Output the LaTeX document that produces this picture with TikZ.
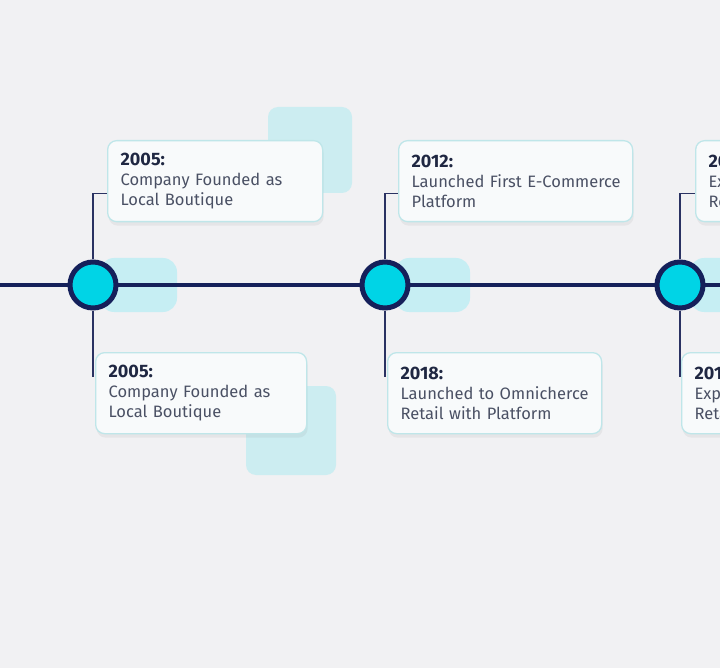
\documentclass[tikz,border=0pt]{standalone}
\usepackage{fontspec}
\setmainfont{Fira Sans}
\usetikzlibrary{shadows}
\definecolor{bgc}{HTML}{F1F1F3}
\definecolor{navy}{HTML}{15205A}
\definecolor{conn}{HTML}{2A3262}
\definecolor{cyanf}{HTML}{00D4E6}
\definecolor{hl}{HTML}{C6EEF3}
\definecolor{deco}{HTML}{CCEDF1}
\definecolor{boxf}{HTML}{F8FAFB}
\definecolor{boxd}{HTML}{BFE6E9}
\definecolor{yearc}{HTML}{1F2742}
\definecolor{descc}{HTML}{4A5064}
\tikzset{
  x=1pt, y=-1pt,
  evbox/.style={draw=boxd, line width=1.3pt, fill=boxf, rounded corners=9pt,
    anchor=north west, align=left, inner xsep=13pt, inner ysep=0pt,
    minimum height=81pt, font=\fontsize{16.5}{20}\selectfont, text=descc,
    drop shadow={opacity=0.10, shadow xshift=1pt, shadow yshift=-4pt}},
  decobox/.style={fill=deco, rounded corners=10pt, draw=none},
  hlbox/.style={fill=hl, rounded corners=14pt, draw=none},
  milestone/.style={circle, fill=cyanf, draw=navy, line width=5pt, minimum size=46pt, inner sep=0pt},
  tline/.style={draw=navy, line width=3.5pt},
  connector/.style={draw=conn, line width=1.6pt},
}
\newcommand{\yr}[1]{{\color{yearc}\fontsize{18}{20}\selectfont\bfseries #1}}
\newcommand{\oneline}[1]{\mbox{#1}}
\begin{document}
\begin{tikzpicture}
\fill[bgc] (0,0) rectangle (720,668);
\useasboundingbox (0,0) rectangle (720,668);
\clip (0,0) rectangle (720,668);
% decorative squares
\fill[decobox] (268,107) rectangle (352,193);
\fill[decobox] (246,386) rectangle (336,475);
% highlights behind milestones
\fill[hlbox] (100,258) rectangle (177,312);
\fill[hlbox] (395,258) rectangle (470,312);
\fill[hlbox] (690,258) rectangle (760,312);
% timeline
\coordinate (L) at (0,285);
\coordinate (R) at (720,285);
\draw[tline] (L) -- (R);
% milestones
\node[milestone] (c1) at (93,285) {};
\node[milestone] (c2) at (385,285) {};
\node[milestone] (c3) at (680,285) {};
% boxes
\node[evbox, text width=189pt] (t1) at (107,140) {\yr{2005:}\\\oneline{Company Founded as}\\\oneline{Local Boutique}};
\node[evbox, text width=185pt] (b1) at (95,352) {\yr{2005:}\\\oneline{Company Founded as}\\\oneline{Local Boutique}};
\node[evbox, text width=208pt] (t2) at (398,140) {\yr{2012:}\\\oneline{Launched First E-Commerce}\\\oneline{Platform}};
\node[evbox, text width=188pt] (b2) at (387,352) {\yr{2018:}\\\oneline{Launched to Omnicherce}\\\oneline{Retail with Platform}};
\node[evbox, text width=200pt] (t3) at (695,140) {\yr{2020:}\\\oneline{Expanded Into}\\\oneline{Retail Stores}};
\node[evbox, text width=200pt] (b3) at (681,352) {\yr{2019:}\\\oneline{Expanded to}\\\oneline{Retail Stores}};
% connectors
\draw[connector] (c1.north) |- ([yshift=-12.5pt]t1.west);
\draw[connector] (c2.north) |- ([yshift=-12.5pt]t2.west);
\draw[connector] (c3.north) |- ([yshift=-12.5pt]t3.west);
\coordinate (e1) at ([yshift=16pt]b1.west);
\coordinate (e2) at ([yshift=16pt]b2.west);
\coordinate (e3) at ([yshift=16pt]b3.west);
\draw[connector] (c1.south) -- (c1.south |- e1);
\draw[connector] (c2.south) -- (c2.south |- e2);
\draw[connector] (c3.south) -- (c3.south |- e3);
\end{tikzpicture}
\end{document}
